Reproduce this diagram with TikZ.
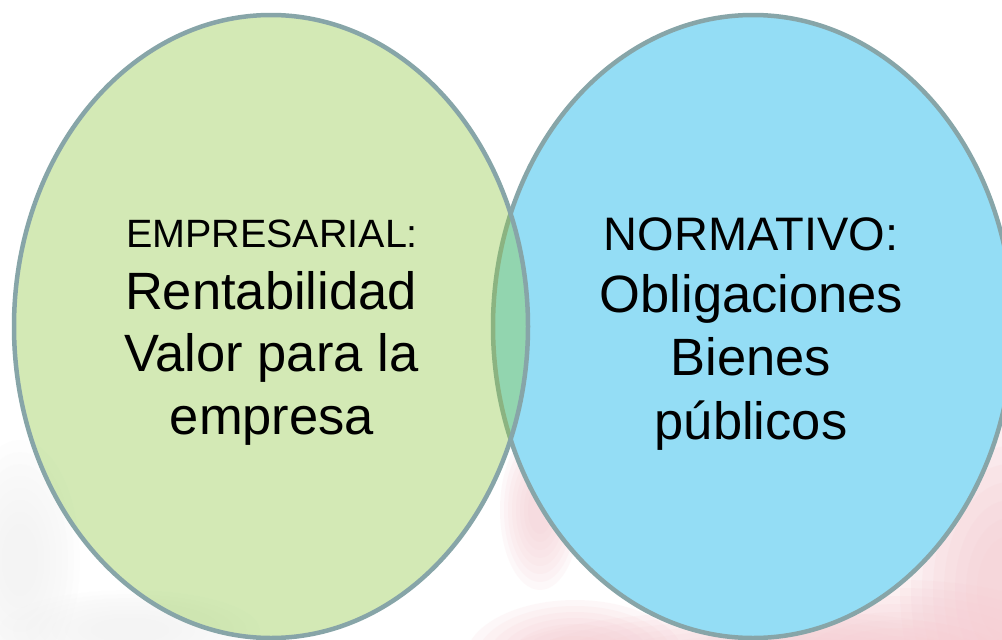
\documentclass[tikz,border=0pt]{standalone}
\usepackage{fontspec}
\setmainfont{Liberation Sans}
\usetikzlibrary{shapes.geometric}
\definecolor{vgreen}{RGB}{145,202,72}
\definecolor{vblue}{RGB}{148,221,245}
\definecolor{vbluedark}{RGB}{136,190,222}
\definecolor{vline}{RGB}{135,165,168}
\definecolor{bgpink}{RGB}{246,205,211}
\definecolor{bggray}{RGB}{225,225,225}
% soft blob: colour, cx, cy, rx, ry, layer opacity
\newcommand\softblob[6]{%
  \foreach \k in {0,...,7}{%
    \fill[#1, opacity=#6] (#2,#3) ellipse [x radius={#4*(1-0.1*\k)}, y radius={#5*(1-0.1*\k)}];
  }}
\begin{document}
\begin{tikzpicture}[x=1pt,y=-1pt,
  venn/.style={ellipse, inner sep=0pt, outer sep=0pt, minimum height=623pt},
  rim/.style={draw=vline, line width=4.5pt},
  bigtext/.style={font=\fontsize{52.5}{62}\selectfont, anchor=base, inner sep=0pt},
  headtext/.style={anchor=base, inner sep=0pt}]
\useasboundingbox (0,0) rectangle (1002,640);
\fill[white] (0,0) rectangle (1002,640);
% faint background
\softblob{bgpink}{1010}{590}{110}{180}{0.16}
\softblob{bgpink}{900}{660}{200}{80}{0.14}
\softblob{bgpink}{540}{510}{40}{80}{0.12}
\softblob{bgpink}{575}{660}{110}{60}{0.14}
\softblob{bgpink}{760}{660}{260}{50}{0.12}
\softblob{bggray}{20}{560}{60}{120}{0.04}
\softblob{bggray}{130}{630}{130}{40}{0.04}
% blue ellipse
\node[venn, rim, fill=vblue, minimum width=520pt,
  path picture={
    \softblob{vbluedark}{800}{338}{280}{35}{0.09}
    \softblob{vbluedark}{640}{470}{110}{70}{0.08}
    \softblob{vbluedark}{720}{565}{100}{60}{0.08}
    \softblob{vbluedark}{870}{500}{120}{50}{0.08}
    \softblob{vbluedark}{960}{430}{60}{60}{0.07}
  }] (norm) at (753,326.5) {};
% green ellipse
\node[venn, rim, fill=vgreen, fill opacity=0.4, minimum width=514pt] (emp) at (271,326.5) {};
% texts
\node[headtext, font=\fontsize{39.5}{46}\selectfont] (e1) at (272,247) {EMPRESARIAL:};
\node[bigtext] (e2) at (271,309) {Rentabilidad};
\node[bigtext] (e3) at (271.5,371) {Valor para la};
\node[bigtext] (e4) at (272,434) {empresa};
\node[headtext, font=\fontsize{47}{56}\selectfont] (n1) at (751,250) {NORMATIVO:};
\node[bigtext] (n2) at (751.5,312) {Obligaciones};
\node[bigtext] (n3) at (751,375) {Bienes};
\node[bigtext] (n4) at (751,439) {públicos};
\end{tikzpicture}
\end{document}
